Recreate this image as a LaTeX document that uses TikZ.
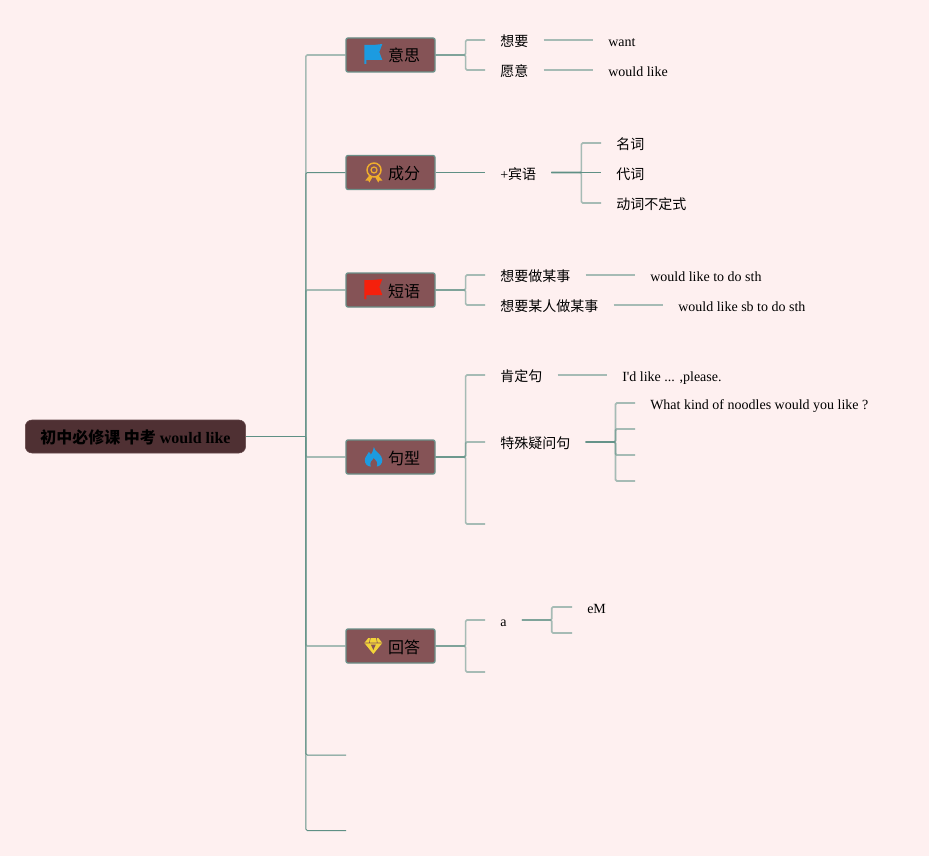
\documentclass[tikz,border=0pt]{standalone}
\usepackage{fontspec}
\setmainfont{Liberation Serif}
\newfontfamily\cjk{Noto Sans CJK SC}
\newfontfamily\straightfont[Ligatures=NoCommon,Mapping=]{Liberation Serif}
\definecolor{pagebg}{HTML}{FEF0F0}
\definecolor{rootfill}{HTML}{4F3033}
\definecolor{catfill}{HTML}{855356}
\definecolor{catline}{HTML}{6A8F88}
\definecolor{trunkline}{HTML}{5F9085}
\definecolor{iconblue}{HTML}{1C9BE0}
\definecolor{iconred}{HTML}{F5200C}
\definecolor{iconorange}{HTML}{F0AE2C}
\definecolor{iconyellow}{HTML}{F2D43A}
\tikzset{
  pics/flagicon/.style={code={
    \fill[#1] (-9,-10) -- (0,-10) -- (9,-11) -- (6,-3) -- (9,5) -- (-7,5) -- (-7,9) -- (-9,9) -- cycle;
  }},
  pics/medalicon/.style={code={
    \draw[iconorange,line width=1.1pt] (0.7,-2.5) circle (7);
    \draw[iconorange,line width=.9pt] (0.7,-2.5) circle (3);
    \fill[iconorange] (-4,3) -- (-8,8) -- (-5,8) -- (-4,10) -- (-1,5) -- cycle;
    \fill[iconorange] (5,3) -- (9,8) -- (6,8) -- (5,10) -- (2,5) -- cycle;
  }},
  pics/flameicon/.style={code={
    \fill[iconblue] (0.5,-10) .. controls (1,-5) and (9,-3) .. (9,3)
      .. controls (9,7) and (6,9.5) .. (3.5,9.5) .. controls (5,6) and (3,3) .. (0.5,1)
      .. controls (-2,3) and (-4,6) .. (-2.5,9.5) .. controls (-6,9.5) and (-8.5,7) .. (-8.5,3)
      .. controls (-8.5,-1) and (-5,-2) .. (-4.5,-5) .. controls (-3,-4) and (-2.5,-3) .. (-2.5,-2)
      .. controls (-1,-4) and (0,-7) .. (0.5,-10) -- cycle;
  }},
  pics/gemicon/.style={code={
    \fill[iconyellow] (-5,-8) -- (5,-8) -- (9,-3) -- (0,8) -- (-9,-3) -- cycle;
    \fill[catfill] (-2.5,-1.5) -- (2.5,-1.5) -- (0,4) -- cycle;
    \draw[catfill,line width=.4pt] (-3,-8) -- (-4,-3) (3,-8) -- (4,-3) (-9,-3) -- (9,-3);
  }}
}
\begin{document}
\begin{tikzpicture}[x=.75pt,y=-.75pt]
\tikzstyle{rootbox}=[fill=rootfill,draw=rootfill!90!white,rounded corners=5pt,minimum height=24.75pt,inner xsep=11.25pt,inner ysep=0pt,anchor=west,text height=11.5pt,text depth=1.5pt,font=\fontsize{12}{14}\selectfont\bfseries]
\tikzstyle{catbox}=[fill=catfill,draw=catline,line width=1pt,rounded corners=1.5pt,minimum width=66.75pt,minimum height=25.5pt,inner sep=0pt,text height=12pt,text depth=1.5pt,font=\fontsize{12}{14}\selectfont]
\tikzstyle{leaf}=[anchor=west,inner xsep=11.25pt,inner ysep=0pt,text height=12pt,text depth=2pt,font=\fontsize{10.5}{12}\selectfont]
\tikzstyle{rule}=[trunkline,draw opacity=.55,line width=1.2pt] % overlaps get darker
\tikzstyle{twig}=[rule,rounded corners=1pt,to path={-- ++(30,0) |- (\tikztotarget)}]
\tikzstyle{direct}=[trunkline,line width=.75pt]

\fill[pagebg] (0,0) rectangle (929,856);
\useasboundingbox (0,0) rectangle (929,856);

\node[rootbox] (root) at (25,436.5) {{\cjk 初中必修课 中考} would like};
\coordinate (fork) at ([xshift=45pt]root.east);

\node[catbox] (yisi) at (390.5,55) {\hspace{20.25pt}{\cjk 意思}};
\node[catbox] (chengfen) at (390.5,172.5) {\hspace{20.25pt}{\cjk 成分}};
\node[catbox] (duanyu) at (390.5,290) {\hspace{20.25pt}{\cjk 短语}};
\node[catbox] (juxing) at (390.5,457) {\hspace{20.25pt}{\cjk 句型}};
\node[catbox] (huida) at (390.5,646) {\hspace{20.25pt}{\cjk 回答}};
\coordinate (blanka) at (346,755);
\coordinate (blankb) at (346,830.5);

\pic at ([xshift=21pt]yisi.west) {flagicon=iconblue};
\pic at ([xshift=21pt]chengfen.west) {medalicon};
\pic at ([xshift=21pt]duanyu.west) {flagicon=iconred};
\pic at ([xshift=21pt]juxing.west) {flameicon};
\pic at ([xshift=21pt]huida.west) {gemicon};

\node[leaf] (xiangyao) at (485,40) {\cjk 想要};
\node[leaf] (yuanyi) at (485,70) {\cjk 愿意};
\node[leaf] (want) at (593,40) {want};
\node[leaf] (wouldlike) at (593,70) {would like};

\node[leaf] (binyu) at (485,172.5) {+{\cjk 宾语}};
\node[leaf] (mingci) at (601,143) {\cjk 名词};
\node[leaf] (daici) at (601,172.5) {\cjk 代词};
\node[leaf] (dongci) at (601,203) {\cjk 动词不定式};

\node[leaf] (zuoshi) at (485,275) {\cjk 想要做某事};
\node[leaf] (renzuoshi) at (485,305) {\cjk 想要某人做某事};
\node[leaf] (liketodo) at (635,275) {would like to do sth};
\node[leaf] (likesb) at (663,305) {would like sb to do sth};

\node[leaf] (kending) at (485,375) {\cjk 肯定句};
\node[leaf] (please) at (607,375) {\straightfont I'd like ... ,please.};
\node[leaf] (teshu) at (485,442) {\cjk 特殊疑问句};
\node[leaf] (noodles) at (635,403) {What kind of noodles would you like ?};
\coordinate (blankc) at (635,429);
\coordinate (blankd) at (635,455);
\coordinate (blanke) at (635,481);
\coordinate (blankf) at (485,524);

\node[leaf] (aword) at (485,620) {a};
\node[leaf] (em) at (572,607) {eM};
\coordinate (blankg) at (572,633);
\coordinate (blankh) at (485,672);

\draw[direct] (root.east) -- (fork);
\draw[rule,rounded corners=1pt] (fork) |- (yisi.west);
\draw[direct,rounded corners=1pt] (fork) |- (chengfen.west);
\draw[rule,rounded corners=1pt] (fork) |- (duanyu.west);
\draw[rule,rounded corners=1pt] (fork) |- (juxing.west);
\draw[rule,rounded corners=1pt] (fork) |- (huida.west);
\draw[direct,rounded corners=1pt] (fork) |- (blanka);
\draw[direct,rounded corners=1pt] (fork) |- (blankb);

\draw[twig] (yisi.east) to (xiangyao.west);
\draw[twig] (yisi.east) to (yuanyi.west);
\draw[rule] (xiangyao.east) -- (want.west);
\draw[rule] (yuanyi.east) -- (wouldlike.west);

\draw[direct] (chengfen.east) -- (binyu.west);
\draw[twig] (binyu.east) to (mingci.west);
\draw[direct] (binyu.east) -- (daici.west);
\draw[twig] (binyu.east) to (dongci.west);

\draw[twig] (duanyu.east) to (zuoshi.west);
\draw[twig] (duanyu.east) to (renzuoshi.west);
\draw[rule] (zuoshi.east) -- (liketodo.west);
\draw[rule] (renzuoshi.east) -- (likesb.west);

\draw[twig] (juxing.east) to (kending.west);
\draw[twig] (juxing.east) to (teshu.west);
\draw[twig] (juxing.east) to (blankf);
\draw[rule] (kending.east) -- (please.west);
\draw[twig] (teshu.east) to (noodles.west);
\draw[twig] (teshu.east) to (blankc);
\draw[twig] (teshu.east) to (blankd);
\draw[twig] (teshu.east) to (blanke);

\draw[twig] (huida.east) to (aword.west);
\draw[twig] (huida.east) to (blankh);
\draw[twig] (aword.east) to (em.west);
\draw[twig] (aword.east) to (blankg);
\end{tikzpicture}
\end{document}
